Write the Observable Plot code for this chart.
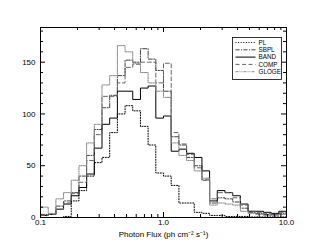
<!DOCTYPE html>
<html><head><meta charset="utf-8">
<script src="https://cdn.jsdelivr.net/npm/d3@7"></script>
<script src="https://cdn.jsdelivr.net/npm/@observablehq/plot@0.6"></script>
<style>body{margin:0;background:#fff}#chart{width:311px;height:249px;position:relative}</style>
</head><body><div id="chart"></div>
<script>
// Log-spaced bin edges (16 per decade) from 0.1 to 10
const binEdges = [0.1,0.1155,0.1334,0.1540,0.1778,0.2054,0.2371,0.2738,0.3162,0.3652,0.4217,0.4870,0.5623,0.6494,0.7499,0.8660,
  1.0,1.155,1.334,1.540,1.778,2.054,2.371,2.738,3.162,3.652,4.217,4.870,5.623,6.494,7.499,8.660,10.0];
const seriesNames = ["PL","SBPL","BAND","COMP","GLOGE"];
const PL    = [0,0,0,1,16,26,40,53,58,82,100,108,103,88,70,43,40,31,14,14,5,4,2,2,1,1,1,0.5,0.5,0.5,0.5,0.5];
const SBPL  = [3,3,11,16,24,40,60,85,106,118,137,152,150,163,153,142,122,78,70,58,50,36,14,19,18,15,9,5,4,3,3,4];
const BAND  = [2,3,8,13,21,29,42,67,90,96,122,122,114,125,127,96,98,64,66,62,58,45,16,26,24,21,13,6,6,5,4,6];
const COMP  = [2,3,8,14,23,34,55,80,117,117,130,145,148,150,150,130,149,82,71,61,48,37,18,24,24,19,12,6,5,4,3,5];
const GLOGE = [10,4,18,24,36,50,72,90,128,137,166,160,149,140,130,122,116,72,60,55,45,38,12,14,13,12,6,4,3,2,2,3];
const xMajor = [0.1,1,10];
const xMinor = [0.2,0.3,0.4,0.5,0.6,0.7,0.8,0.9,2,3,4,5,6,7,8,9];
const yMajor = [0,50,100,150];
const yMinor = [10,20,30,40,60,70,80,90,110,120,130,140,160,170,180];
const xLabel = "Photon Flux (ph cm\u207B\u00B2 s\u207B\u00B9)";

const styles = {
  PL:    {stroke:"#000", dash:"1,1.6", width:1},
  SBPL:  {stroke:"#111", dash:"4,1.5,1,1.5", width:0.8},
  BAND:  {stroke:"#000", dash:null, width:1},
  COMP:  {stroke:"#666", dash:"4,2.5", width:1},
  GLOGE: {stroke:"#8a8a8a", dash:"3,1,1,1,1,1", width:1}
};
const values = {PL, SBPL, BAND, COMP, GLOGE};

const W = 311, H = 249, mL = 40, mR = 25, mT = 27, mB = 32;
const iw = W - mL - mR, ih = H - mT - mB;
const font = "'Liberation Sans', Arial, sans-serif";

function steps(arr){
  return binEdges.map((e,i)=>({x:e, y:arr[Math.min(i,arr.length-1)]}));
}

const lineMarks = seriesNames.map(n => Plot.line(steps(values[n]), {
  x:"x", y:"y", curve:"step-after", stroke:styles[n].stroke,
  strokeWidth:styles[n].width, strokeDasharray:styles[n].dash
}));

const chart = Plot.plot({
  width: W, height: H,
  marginLeft: mL, marginRight: mR, marginTop: mT, marginBottom: mB,
  style: {fontFamily:font, fontSize:"8px", background:"#fff", color:"#000"},
  x: {type:"log", domain:[0.1,10]},
  y: {domain:[0,183.5]},
  marks: [
    ...lineMarks,
    Plot.ruleX(xMajor, {insetTop: ih-5, stroke:"#000"}),
    Plot.ruleX(xMajor, {insetBottom: ih-5, stroke:"#000"}),
    Plot.ruleX(xMinor, {insetTop: ih-3, stroke:"#000"}),
    Plot.ruleX(xMinor, {insetBottom: ih-3, stroke:"#000"}),
    Plot.ruleY(yMajor, {insetRight: iw-5, stroke:"#000"}),
    Plot.ruleY(yMajor, {insetLeft: iw-5, stroke:"#000"}),
    Plot.ruleY(yMinor, {insetRight: iw-3, stroke:"#000"}),
    Plot.ruleY(yMinor, {insetLeft: iw-3, stroke:"#000"}),
    Plot.frame({stroke:"#000", strokeWidth:1}),
    Plot.axisY({ticks: yMajor, tickSize:0, tickPadding:5, label:null, fontSize:8}),
    Plot.axisX({ticks: xMajor, tickFormat: d => d.toFixed(1), tickSize:0, tickPadding:2, fontSize:8, label:null}),
    Plot.text([xLabel], {frameAnchor:"bottom", dy:19, text:d=>d, fontSize:8, lineAnchor:"bottom"})
  ]
});
document.getElementById("chart").appendChild(chart);

// Legend inside the plot area (top-right)
const svg = d3.select(chart);
const lg = svg.append("g").attr("class","legend");
const lx = 232.5, ly = 37.5, lw = 49, lh = 42;
lg.append("rect").attr("x",lx).attr("y",ly).attr("width",lw).attr("height",lh)
  .attr("fill","#fff").attr("stroke","#000").attr("stroke-width",0.8);
seriesNames.forEach((n,i)=>{
  const yy = ly + 5 + i*7.3;
  lg.append("line").attr("x1",lx+3).attr("x2",lx+23).attr("y1",yy).attr("y2",yy)
    .attr("stroke",styles[n].stroke).attr("stroke-width",styles[n].width)
    .attr("stroke-dasharray",styles[n].dash);
  lg.append("text").attr("x",lx+26).attr("y",yy).attr("dy","0.35em")
    .attr("text-anchor","start")
    .attr("font-size","6.3px").attr("font-family",font).text(n);
});
</script></body></html>
